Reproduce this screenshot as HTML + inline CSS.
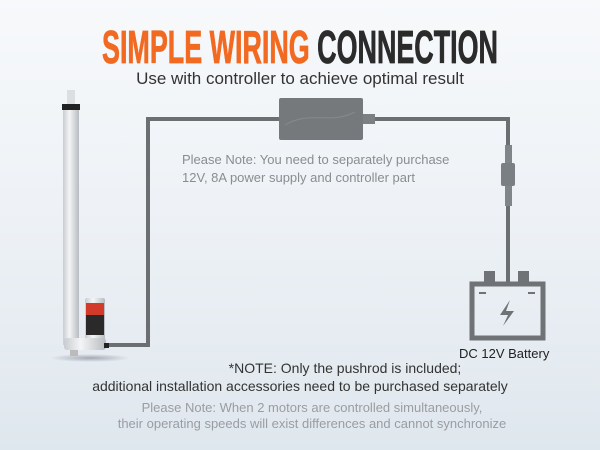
<!DOCTYPE html>
<html><head><meta charset="utf-8"><style>
body{margin:0}
#c{width:600px;height:450px;position:relative;overflow:hidden;background:linear-gradient(180deg,#f7f9fb 0%,#eef2f6 45%,#dfe7ee 100%);font-family:"Liberation Sans",sans-serif}
</style></head><body><div id="c">
<svg width="600" height="450" style="position:absolute;left:0;top:0">
<defs>
<linearGradient id="rod" x1="0" x2="1"><stop offset="0" stop-color="#c9ccd0"/><stop offset=".4" stop-color="#f4f5f6"/><stop offset="1" stop-color="#b8bcc0"/></linearGradient>
<radialGradient id="sh"><stop offset="0" stop-color="#667" stop-opacity=".5"/><stop offset="1" stop-color="#667" stop-opacity="0"/></radialGradient>
</defs>
<text x="300" y="63" text-anchor="middle" font-family="Liberation Sans Narrow, Liberation Sans, sans-serif" font-weight="bold" font-size="46" textLength="396" lengthAdjust="spacingAndGlyphs" stroke-width="0.8"><tspan fill="#f26a21" stroke="#f26a21">SIMPLE WIRING </tspan><tspan fill="#2b2b2b" stroke="#2b2b2b">CONNECTION</tspan></text>
<text x="300" y="84" text-anchor="middle" font-size="17" fill="#333">Use with controller to achieve optimal result</text>
<polyline points="106,345 148,345 148,119 280,119" fill="none" stroke="#6b6f72" stroke-width="4"/>
<polyline points="362,119 508,119 508,283" fill="none" stroke="#6b6f72" stroke-width="4"/>
<rect x="279" y="98" width="84" height="42" rx="2" fill="#75797c"/>
<path d="M285,125 C310,110 330,125 355,112" stroke="#858a8d" fill="none"/>
<rect x="363" y="114" width="12" height="10" fill="#7c8083"/>
<rect x="505" y="145" width="7" height="18" fill="#80858a"/>
<rect x="501" y="163" width="14" height="23" rx="2" fill="#7a7f83"/>
<rect x="505" y="186" width="7" height="20" fill="#80858a"/>
<rect x="484" y="271" width="11" height="12" fill="#6f7376"/>
<rect x="518" y="271" width="11" height="12" fill="#6f7376"/>
<rect x="472" y="284" width="71" height="54" fill="none" stroke="#6f7376" stroke-width="5"/>
<rect x="479" y="292" width="7" height="2" fill="#6f7376"/><rect x="528" y="292" width="7" height="2" fill="#6f7376"/>
<path d="M510,300 L500,315 L508,315 L503,326 L514,311 L506,311 Z" fill="#6f7376"/>
<ellipse cx="90" cy="358" rx="40" ry="4" fill="url(#sh)"/>
<rect x="67" y="90" width="8" height="14" fill="#dcdfe2"/>
<rect x="62" y="104" width="18" height="6" fill="#222"/>
<rect x="63" y="110" width="16" height="235" fill="url(#rod)"/>
<rect x="85" y="298" width="20" height="42" rx="2" fill="url(#rod)"/>
<rect x="86" y="303" width="18" height="12" fill="#d23a2a"/>
<rect x="86" y="315" width="18" height="20" fill="#2a2a2a"/>
<rect x="64" y="338" width="42" height="12" rx="3" fill="url(#rod)"/>
<rect x="70" y="350" width="8" height="6" fill="#bbb"/>
<rect x="104" y="343" width="5" height="5" fill="#222"/>
<text x="182" y="164" font-size="13" fill="#8a8d90">Please Note: You need to separately purchase</text>
<text x="182" y="182" font-size="13" fill="#8a8d90">12V, 8A power supply and controller part</text>
<text x="459" y="358" font-size="13" fill="#222">DC 12V Battery</text>
<text x="345" y="373" text-anchor="middle" font-size="14" fill="#333">*NOTE: Only the pushrod is included;</text>
<text x="300" y="391" text-anchor="middle" font-size="14" fill="#333">additional installation accessories need to be purchased separately</text>
<text x="312" y="412" text-anchor="middle" font-size="13" fill="#9a9da0">Please Note: When 2 motors are controlled simultaneously,</text>
<text x="312" y="428" text-anchor="middle" font-size="13" fill="#9a9da0">their operating speeds will exist differences and cannot synchronize</text>
</svg>
</div></body></html>
